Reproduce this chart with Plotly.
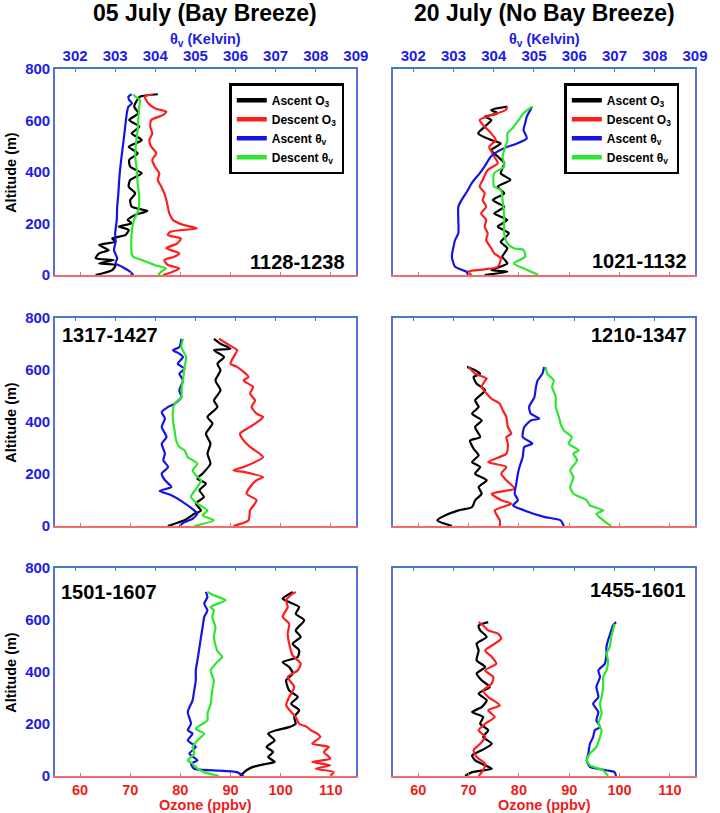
import plotly.graph_objects as go

# ---------------- data (altitude in m, ozone in ppbv, theta_v in K) ----------------
# Panel 1: 05 July, 1128-1238
p1_asc_o3_alt = [0,19,39,45,58,65,84,97,117,129,142,155,175,188,201,214,233,249,265,291,317,343,369,395,421,447,473,498,524,550,576,602,628,654,680,693,702]
p1_asc_o3 = [63.1,66.4,67.1,63.8,66.7,63.1,63.8,65.7,63.8,67.1,66.4,69.0,69.7,67.7,70.3,69.5,71.0,73.4,70.3,70.0,71.0,69.7,70.0,72.3,70.0,69.8,71.5,69.7,72.3,70.3,71.8,69.8,71.6,70.8,71.4,72.0,75.5]
p1_desc_o3_alt = [0,13,26,39,58,71,84,104,123,142,155,168,181,195,214,239,265,291,317,343,369,395,421,447,473,498,524,550,576,602,621,634,647,667,693,702]
p1_desc_o3 = [76.5,78.5,79.8,77.5,76.8,78.8,79.8,77.2,79.4,80.1,77.5,78.0,83.3,80.5,78.5,77.8,77.5,77.2,76.8,76.2,75.5,75.8,74.9,74.4,75.2,74.2,73.8,74.4,74.0,74.2,76.5,77.2,75.0,73.6,72.9,74.5]
p1_asc_th_alt = [0,13,32,45,65,97,129,162,214,265,317,369,421,473,524,576,628,654,667,680,693,702]
p1_asc_th = [303.45,303.37,303.17,303.01,303.05,302.97,303.01,303.00,303.04,303.05,303.08,303.10,303.13,303.17,303.21,303.25,303.29,303.33,303.42,303.35,303.33,303.41]
p1_desc_th_alt = [0,13,26,39,58,71,84,110,162,214,252,304,356,408,460,511,563,615,654,680,693,702]
p1_desc_th = [304.07,304.15,304.27,303.98,303.66,303.45,303.41,303.40,303.41,303.47,303.58,303.60,303.56,303.54,303.50,303.52,303.56,303.58,303.60,303.62,303.50,303.45]

# Panel 2: 20 July, 1021-1132
p2_asc_o3_alt = [0,13,19,45,71,104,129,162,188,214,239,265,291,317,343,369,395,434,460,485,511,524,550,576,602,615,628,641,654]
p2_asc_o3 = [73.2,77.7,74.5,77.7,76.7,77.7,76.4,78.0,75.8,77.7,75.1,77.1,74.8,77.1,75.8,78.3,76.4,77.1,75.8,74.5,76.4,74.5,71.9,73.2,74.5,73.2,75.8,74.5,77.7]
p2_desc_o3_alt = [0,13,22,32,65,84,104,136,162,188,214,239,265,291,317,343,369,408,434,460,498,524,550,576,602,621,641,654]
p2_desc_o3 = [70.6,69.9,73.2,75.8,76.4,75.1,74.5,73.5,73.8,73.2,73.5,72.5,73.5,72.8,73.2,72.2,72.8,73.8,75.8,75.1,74.1,75.4,74.5,73.2,72.2,74.5,77.4,77.7]
p2_asc_th_alt = [0,13,32,71,110,136,162,214,265,291,330,356,395,421,460,479,498,511,531,563,589,615,641,654]
p2_asc_th = [303.36,303.32,303.04,302.96,303.00,303.04,303.12,303.12,303.12,303.20,303.36,303.45,303.65,303.77,303.93,304.09,304.34,304.58,304.82,304.74,304.78,304.82,304.91,304.95]
p2_desc_th_alt = [0,26,45,71,97,104,123,162,227,291,330,343,395,421,460,485,524,550,576,602,628,654]
p2_desc_th = [305.11,304.74,304.50,304.78,304.74,304.50,304.34,304.26,304.26,304.22,304.18,304.01,304.01,304.26,304.22,304.26,304.34,304.34,304.50,304.62,304.74,304.95]

# Panel 3: 05 July, 1317-1427
p3_asc_o3_alt = [0,22,47,60,86,112,137,163,182,201,240,278,317,355,394,419,458,483,522,560,599,624,650,676,682,701,720]
p3_asc_o3 = [77.5,80.8,82.8,84.1,83.1,84.7,83.8,85.1,83.4,84.4,86.0,85.4,86.0,85.1,86.4,85.4,87.4,86.7,88.0,87.0,88.0,87.4,88.7,86.7,90.0,88.0,86.7]
p3_desc_o3_alt = [0,22,60,99,124,150,176,188,208,214,227,265,278,304,329,355,381,406,419,432,458,483,509,535,560,573,612,624,650,676,701,720]
p3_desc_o3 = [90.6,93.6,93.9,95.2,93.2,93.9,95.2,96.5,92.6,90.6,92.6,96.5,95.8,93.9,92.6,91.9,93.9,95.8,96.5,95.2,94.2,94.9,93.9,94.5,92.6,93.6,91.3,90.0,90.6,91.3,89.3,87.7]
p3_asc_th_alt = [0,15,28,47,60,92,118,135,150,176,201,227,253,278,317,342,381,413,438,458,470,496,522,560,586,605,624,650,663,676,688,720]
p3_asc_th = [304.60,304.73,304.93,305.05,304.97,304.69,304.40,304.11,304.40,304.24,304.16,304.32,304.20,304.24,304.16,304.28,304.16,304.24,304.16,304.32,304.48,304.65,304.60,304.69,304.60,304.73,304.56,304.69,304.60,304.44,304.60,304.65]
p3_desc_th_alt = [0,22,41,60,86,112,150,176,195,214,240,265,291,304,329,368,406,445,470,496,535,560,612,650,688,720]
p3_desc_th = [304.97,305.46,305.18,305.30,305.05,304.89,305.05,305.14,305.01,304.93,305.05,304.81,304.73,304.60,304.52,304.48,304.44,304.44,304.48,304.65,304.66,304.69,304.73,304.77,304.65,304.69]

# Panel 4: 20 July, 1210-1347
p4_asc_o3_alt = [0,22,41,60,73,99,124,150,176,201,227,246,272,297,329,342,381,406,432,458,483,522,547,573,586,599,612]
p4_asc_o3 = [66.7,63.8,65.4,68.0,70.7,71.3,72.6,72.0,73.6,71.3,72.3,70.7,72.0,71.0,70.3,72.3,71.3,72.6,70.7,72.0,71.3,73.3,71.6,71.0,72.3,71.3,69.7]
p4_desc_o3_alt = [0,22,60,86,99,124,144,176,201,227,246,278,317,342,355,381,419,445,470,489,509,535,560,567,586,612]
p4_desc_o3 = [76.2,76.2,75.2,78.5,76.5,74.6,79.1,77.5,76.5,77.5,73.9,77.5,77.8,77.5,78.5,77.8,77.5,76.8,76.2,74.6,73.6,72.6,73.3,73.6,71.3,70.0]
p4_asc_th_alt = [0,22,35,60,79,99,124,163,201,227,265,304,317,342,381,406,413,432,458,496,535,560,586,612]
p4_asc_th = [305.74,305.66,305.25,304.76,304.48,304.60,304.52,304.56,304.60,304.64,304.72,304.76,304.96,304.72,304.76,304.92,305.13,304.92,304.88,305.01,305.05,305.09,305.21,305.25]
p4_desc_th_alt = [0,22,47,60,79,99,124,150,188,214,253,278,291,317,342,368,394,419,458,496,535,560,586,612]
p4_desc_th = [306.92,306.72,306.55,306.72,306.39,306.31,305.98,305.90,305.98,305.90,306.07,305.98,306.11,305.86,305.94,305.74,305.66,305.62,305.54,305.54,305.45,305.49,305.33,305.29]

# Panel 5: 05 July, 1501-1607
p5_asc_o3_alt = [0,22,35,47,54,73,92,112,137,163,176,188,201,227,253,278,304,329,368,394,419,438,458,483,509,535,560,599,624,650,669,682,708]
p5_asc_o3 = [91.9,93.2,94.5,97.2,98.8,97.5,98.5,97.2,98.8,97.5,99.1,101.7,103.0,102.7,103.7,102.1,103.4,101.7,101.1,102.4,101.7,100.4,103.4,103.7,102.4,104.0,103.0,104.7,103.0,103.7,101.7,100.4,102.4]
p5_desc_o3_alt = [0,15,28,41,54,67,92,112,124,150,163,176,188,201,227,246,272,304,342,381,406,432,464,509,547,586,612,650,676,701,708]
p5_desc_o3 = [109.9,110.6,107.0,109.9,106.3,109.9,108.6,109.6,106.3,107.9,107.3,106.0,105.3,103.7,103.0,102.1,101.1,101.7,102.7,101.4,103.4,104.0,102.4,101.7,101.4,101.7,100.4,101.4,101.1,102.4,103.0]
p5_asc_th_alt = [0,15,22,28,47,60,86,112,137,163,176,201,246,291,329,368,406,445,483,535,573,612,637,663,688,708]
p5_asc_th = [306.20,306.03,305.46,304.97,304.89,305.05,304.85,305.01,304.81,304.93,304.81,304.89,304.81,304.93,304.97,305.01,305.01,305.05,305.09,305.14,305.18,305.22,305.30,305.22,305.30,305.26]
p5_desc_th_alt = [0,15,28,47,60,86,112,137,163,182,214,240,278,329,368,406,438,458,483,535,573,612,637,650,676,695,708]
p5_desc_th = [305.59,305.22,305.05,304.93,304.81,304.97,304.93,305.05,305.22,305.01,305.30,305.30,305.38,305.42,305.46,305.38,305.54,305.67,305.54,305.46,305.50,305.42,305.46,305.38,305.75,305.46,305.30]

# Panel 6: 20 July, 1455-1601
p6_asc_o3_alt = [0,15,28,41,60,79,99,124,150,176,201,227,246,265,291,317,342,368,394,419,445,483,509,535,560,579,592]
p6_asc_o3 = [69.3,70.7,74.6,73.3,71.3,70.7,72.6,74.6,72.9,73.9,72.3,72.9,70.7,72.6,73.6,72.0,74.2,72.6,71.6,73.3,71.6,72.0,71.6,73.6,72.3,72.0,73.9]
p6_desc_o3_alt = [0,22,47,73,99,124,150,176,201,227,253,272,304,329,355,381,406,432,458,483,509,529,547,560,579,592]
p6_desc_o3 = [72.0,72.9,73.3,71.6,71.0,72.3,73.3,72.0,73.3,75.2,73.9,76.2,73.9,72.9,74.6,74.9,73.3,75.5,74.6,73.3,75.2,76.5,75.9,73.9,72.9,72.0]
p6_asc_th_alt = [0,15,22,35,60,86,124,150,176,188,214,246,278,304,342,381,406,432,470,496,522,560,579,592]
p6_asc_th = [307.04,307.00,306.80,306.39,306.31,306.35,306.39,306.47,306.51,306.64,306.55,306.60,306.47,306.60,306.55,306.64,306.60,306.76,306.80,306.80,306.84,306.92,306.96,307.04]
p6_desc_th_alt = [0,22,41,60,86,112,150,176,201,240,278,304,342,381,406,445,470,496,535,560,586]
p6_desc_th = [306.84,306.72,306.39,306.31,306.39,306.55,306.64,306.68,306.60,306.68,306.64,306.68,306.72,306.72,306.80,306.84,306.80,306.88,306.92,306.96,307.00]

panel_labels = ["1128-1238", "1021-1132", "1317-1427", "1210-1347", "1501-1607", "1455-1601"]
column_titles = ["05 July (Bay Breeze)", "20 July (No Bay Breeze)"]
series_names = ["Ascent O<sub>3</sub>", "Descent O<sub>3</sub>", "Ascent θ<sub>v</sub>", "Descent θ<sub>v</sub>"]
ozone_ticks = [60, 70, 80, 90, 100, 110]
theta_ticks = [302, 303, 304, 305, 306, 307, 308, 309]
alt_ticks = [0, 200, 400, 600, 800]

panels = [
    (p1_asc_o3_alt, p1_asc_o3, p1_desc_o3_alt, p1_desc_o3, p1_asc_th_alt, p1_asc_th, p1_desc_th_alt, p1_desc_th),
    (p2_asc_o3_alt, p2_asc_o3, p2_desc_o3_alt, p2_desc_o3, p2_asc_th_alt, p2_asc_th, p2_desc_th_alt, p2_desc_th),
    (p3_asc_o3_alt, p3_asc_o3, p3_desc_o3_alt, p3_desc_o3, p3_asc_th_alt, p3_asc_th, p3_desc_th_alt, p3_desc_th),
    (p4_asc_o3_alt, p4_asc_o3, p4_desc_o3_alt, p4_desc_o3, p4_asc_th_alt, p4_asc_th, p4_desc_th_alt, p4_desc_th),
    (p5_asc_o3_alt, p5_asc_o3, p5_desc_o3_alt, p5_desc_o3, p5_asc_th_alt, p5_asc_th, p5_desc_th_alt, p5_desc_th),
    (p6_asc_o3_alt, p6_asc_o3, p6_desc_o3_alt, p6_desc_o3, p6_asc_th_alt, p6_asc_th, p6_desc_th_alt, p6_desc_th),
]

# ---------------- styling ----------------
FONT = "Liberation Sans"
LINE_COLORS = ["#000000", "#ff1e1e", "#1414e6", "#2ee62e"]
TXT_BLUE = "#1c1ce8"
TXT_RED = "#ee1c1c"
AX_BLUE = "#4a78c8"
AX_RED = "#f26b6b"


def bold(v):
    return f"<b>{v}</b>"


col_dom = [[0.0, 0.4701], [0.5283, 1.0]]
row_dom = [[0.7086, 1.0], [0.3536, 0.6478], [0.0, 0.2942]]

fig = go.Figure()
layout = dict(
    width=720, height=813,
    margin=dict(l=55, r=12, t=69, b=37),
    paper_bgcolor="white", plot_bgcolor="white",
    font=dict(family=FONT, color="black"),
    showlegend=True,
)

annotations = []
for i, p in enumerate(panels):
    r, c = divmod(i, 2)
    n = i + 1
    xo = f"x{n}" if n > 1 else "x"
    xt = f"x{n + 6}"
    yy = f"y{n}" if n > 1 else "y"
    (ao_alt, ao, do_alt, do, at_alt, at, dt_alt, dt) = p
    specs = [(ao, ao_alt, xo, 0), (do, do_alt, xo, 1), (at, at_alt, xt, 2), (dt, dt_alt, xt, 3)]
    for xs, ys, xa, k in specs:
        fig.add_trace(go.Scatter(
            x=xs, y=ys, xaxis=xa, yaxis=yy, mode="lines",
            line=dict(color=LINE_COLORS[k], width=2.2, shape="spline", smoothing=0.6),
            showlegend=False, hoverinfo="skip"))

    xkey_o = "xaxis" if n == 1 else f"xaxis{n}"
    xkey_t = f"xaxis{n + 6}"
    ykey = "yaxis" if n == 1 else f"yaxis{n}"
    layout[xkey_o] = dict(
        domain=col_dom[c], anchor=yy, range=[55, 115],
        tickvals=ozone_ticks, ticktext=[bold(v) for v in ozone_ticks],
        ticks="inside", ticklen=3, tickwidth=1.2, tickcolor=AX_RED,
        showline=True, linecolor=AX_RED, linewidth=1.6, mirror=False,
        showgrid=False, zeroline=False, showticklabels=(r == 2),
        tickfont=dict(family=FONT, size=14.5, color=TXT_RED))
    layout[xkey_t] = dict(
        overlaying=xo, side="top", anchor=yy, range=[301.5, 309],
        tickvals=theta_ticks, ticktext=[bold(v) for v in theta_ticks],
        ticks="inside", ticklen=3, tickwidth=1.2, tickcolor=AX_BLUE,
        showline=True, linecolor=AX_BLUE, linewidth=1.6,
        showgrid=False, zeroline=False, showticklabels=(r == 0),
        tickfont=dict(family=FONT, size=15, color=TXT_BLUE))
    layout[ykey] = dict(
        domain=row_dom[r], anchor=xo, range=[0, 800],
        tickvals=alt_ticks, ticktext=[bold(v) for v in alt_ticks],
        ticks="", showline=True, linecolor="#5a6ee0", linewidth=1.6, mirror=True,
        showgrid=False, zeroline=False, showticklabels=(c == 0),
        tickfont=dict(family=FONT, size=15, color=TXT_BLUE))

    # panel time label
    left = i in (2, 4)
    ypos = {0: 0.063, 1: 0.068, 2: 0.918, 3: 0.918, 4: 0.885, 5: 0.894}[i]
    xpos = {0: 0.97, 1: 0.98, 2: 0.016, 3: 0.98, 4: 0.013, 5: 0.977}[i]
    annotations.append(dict(
        text=bold(panel_labels[i]), xref=f"{xo} domain", yref=f"{yy} domain",
        x=xpos, y=ypos, xanchor="left" if left else "right", yanchor="middle",
        showarrow=False, font=dict(family=FONT, size=20, color="black")))

    if c == 0:
        annotations.append(dict(
            text=bold("Altitude (m)"), xref="paper", yref=f"{yy} domain", x=-0.069, y=0.5,
            xanchor="center", yanchor="middle", textangle=-90, showarrow=False,
            font=dict(family=FONT, size=14.5, color="black")))
    if r == 0:
        annotations.append(dict(
            text=bold("θ<sub>v</sub> (Kelvin)"), xref=f"{xo} domain", yref="paper", x=0.5, y=1.041,
            xanchor="center", yanchor="middle", showarrow=False,
            font=dict(family=FONT, size=14.5, color=TXT_BLUE)))
        annotations.append(dict(
            text=bold(column_titles[c]), xref=f"{xo} domain", yref="paper", x=0.5, y=1.0792,
            xanchor="center", yanchor="middle", showarrow=False,
            font=dict(family=FONT, size=23, color="black")))
    if r == 2:
        annotations.append(dict(
            text=bold("Ozone (ppbv)"), xref=f"{xo} domain", yref="paper", x=0.5, y=-0.041,
            xanchor="center", yanchor="middle", showarrow=False,
            font=dict(family=FONT, size=14.5, color=TXT_RED)))

# legend entries (samples only) for the two top panels
for lg, xa, ya in (("legend", "x", "y"), ("legend2", "x2", "y2")):
    for k, name in enumerate(series_names):
        fig.add_trace(go.Scatter(
            x=[None], y=[None], xaxis=xa, yaxis=ya, mode="lines", name=bold(name),
            line=dict(color=LINE_COLORS[k], width=4.5), legend=lg, showlegend=True))

legend_style = dict(
    xanchor="right", yanchor="top", y=0.98,
    bordercolor="black", borderwidth=2.5, bgcolor="white",
    font=dict(family=FONT, size=12, color="black"),
    itemwidth=30, tracegroupgap=0)
layout["legend"] = dict(x=0.452, **legend_style)
layout["legend2"] = dict(x=0.9755, **legend_style)
layout["annotations"] = annotations

fig.update_layout(**layout)
fig.write_html("out.html", config={"displayModeBar": False},
               post_script="document.body.style.margin='0px';")
